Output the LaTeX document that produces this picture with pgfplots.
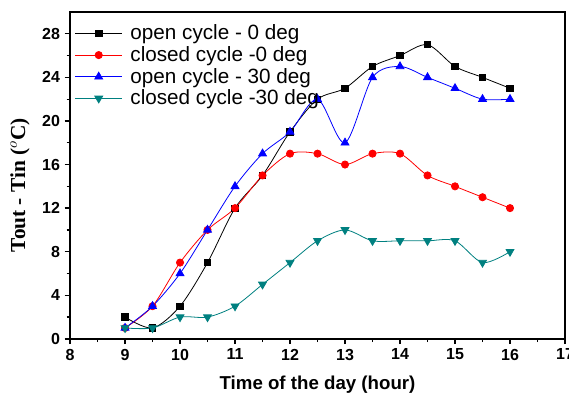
\documentclass[border=0pt]{standalone}
\usepackage{pgfplots}
\pgfplotsset{compat=1.18}
\usepackage{fontspec}
\setmainfont{Liberation Sans}
\newfontfamily\serifb{Liberation Serif}
\definecolor{tealc}{RGB}{0,128,128}
\begin{document}
\begin{tikzpicture}
\begin{axis}[
  scale only axis, width=371pt, height=245pt,
  xmin=8, xmax=17, ymin=0, ymax=30,
  xtick={8,...,17}, ytick={0,4,...,28},
  minor xtick={8.5,9.5,...,16.5}, minor ytick={2,6,...,26},
  tick align=outside, tick pos=left,
  major tick length=4pt, minor tick length=2.5pt,
  every tick/.style={black, line width=1pt},
  axis line style={line width=1.3pt},
  ticklabel style={font=\fontsize{12}{14}\selectfont\bfseries},
  /pgf/number format/assume math mode=true,
  xlabel={\fontsize{14}{16}\selectfont\bfseries Time of the day (hour)},
  ylabel={\fontsize{16}{18}\selectfont\serifb\bfseries Tout - Tin ($^{o}$C)},
  xlabel style={at={(axis description cs:0.5,0)}, anchor=center, yshift=-34.5pt},
  ylabel style={at={(axis description cs:0,0.47)}, anchor=center, yshift=37.5pt},
  legend style={draw=none, fill=none, at={(axis description cs:0,1)}, anchor=north west,
    xshift=3.5pt, yshift=-7.5pt,
    font=\fontsize{15.5}{16}\selectfont, row sep=-0.5pt, inner sep=0pt,
    /tikz/every odd column/.append style={column sep=4pt},
    cells={anchor=west}},
  legend image code/.code={%
    \draw[mark repeat=2, mark phase=2] plot coordinates {(0pt,0pt) (17.5pt,0pt) (35pt,0pt)};},
  every axis plot/.append style={smooth, tension=0.5, line width=0.6pt},
]
\addplot[black, mark=square*, mark size=2.4pt] coordinates {
(9,2) (9.5,1) (10,3) (10.5,7) (11,12) (11.5,15) (12,19) (12.5,22) (13,23) (13.5,25) (14,26) (14.5,27) (15,25) (15.5,24) (16,23)};
\addlegendentry{open cycle - 0 deg}
\addplot[red, mark=*, mark size=2.7pt] coordinates {
(9,1) (9.5,3) (10,7) (10.5,10) (11,12) (11.5,15) (12,17) (12.5,17) (13,16) (13.5,17) (14,17) (14.5,15) (15,14) (15.5,13) (16,12)};
\addlegendentry{closed cycle -0 deg}
\addplot[blue, mark=triangle*, mark size=3.4pt] coordinates {
(9,1) (9.5,3) (10,6) (10.5,10) (11,14) (11.5,17) (12,19) (12.5,22) (13,18) (13.5,24) (14,25) (14.5,24) (15,23) (15.5,22) (16,22)};
\addlegendentry{open cycle - 30 deg}
\addplot[tealc, mark=triangle*, mark options={rotate=180}, mark size=3.4pt] coordinates {
(9,1) (9.5,1) (10,2) (10.5,2) (11,3) (11.5,5) (12,7) (12.5,9) (13,10) (13.5,9) (14,9) (14.5,9) (15,9) (15.5,7) (16,8)};
\addlegendentry{closed cycle -30 deg}
\end{axis}
\pgfresetboundingbox
\useasboundingbox ([xshift=-52.5pt,yshift=-48pt]current axis.south west) rectangle ([xshift=3pt,yshift=9pt]current axis.north east);
\end{tikzpicture}
\end{document}
